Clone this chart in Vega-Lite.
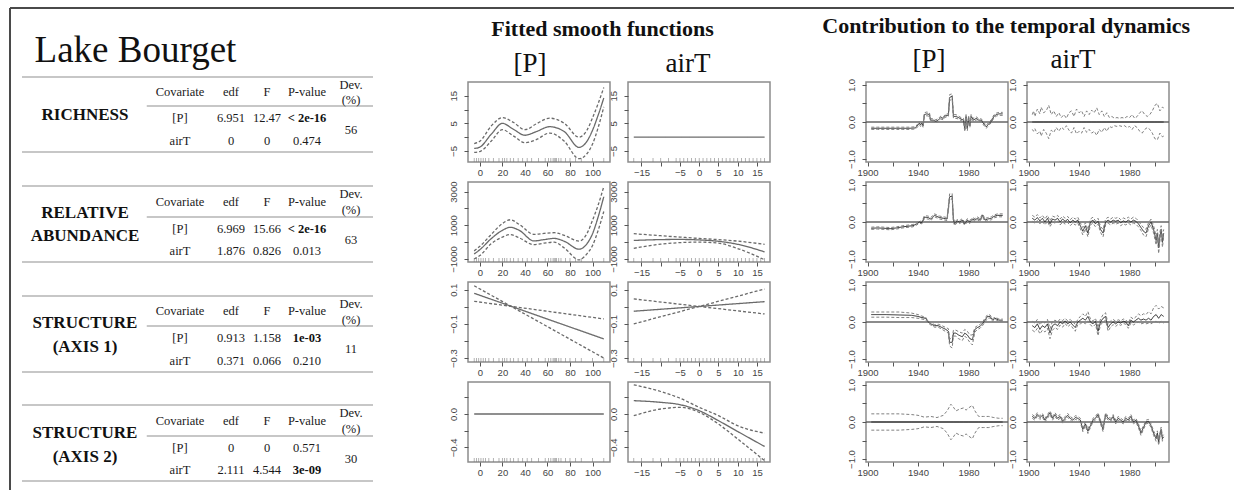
{
"$schema": "https://vega.github.io/schema/vega-lite/v6.json",
"autosize": {"type": "pad"},
"padding": 0,
"background": "white",
"config": {
  "view": {"stroke": "#8c8c8c", "strokeWidth": 1.5},
  "axis": {"grid": false, "domain": false, "tickColor": "#555", "tickSize": 4, "tickCount": 20, "labelFont": "Liberation Sans", "labelFontSize": 9.5, "labelColor": "#444", "labelOverlap": false, "labelFlush": false},
  "axisX": {"labelPadding": 1, "labelOverlap": false},
  "axisY": {"labelAngle": 270, "labelPadding": 6, "labelOverlap": false},
  "title": {"font": "Liberation Serif", "color": "#111"},
  "text": {"font": "Liberation Serif"}
},
"datasets": {
  "spacer": [{"c": -2, "c2": 0, "r": -3, "r2": -3}],
  "frame": [{"c": -2, "c2": 7, "r": -2, "r2": -2}, {"c": -2, "c2": -2, "r": -2, "r2": 16}],
  "hl": [
    {"c": -1, "c2": 6, "r": 0}, {"c": 0.65, "c2": 6, "r": 1}, {"c": -1, "c2": 6, "r": 3},
    {"c": -1, "c2": 6, "r": 4}, {"c": 0.65, "c2": 6, "r": 5}, {"c": -1, "c2": 6, "r": 7},
    {"c": -1, "c2": 6, "r": 8}, {"c": 0.65, "c2": 6, "r": 9}, {"c": -1, "c2": 6, "r": 11},
    {"c": -1, "c2": 6, "r": 12}, {"c": 0.65, "c2": 6, "r": 13}, {"c": -1, "c2": 6, "r": 15}
  ],
  "tab": [
    {"c": 1, "r": 0.5, "t": "Covariate"}, {"c": 2, "r": 0.5, "t": "edf"}, {"c": 3, "r": 0.5, "t": "F"}, {"c": 4, "r": 0.5, "t": "P-value"}, {"c": 5, "r": 0.28, "t": "Dev."}, {"c": 5, "r": 0.79, "t": "(%)"},
    {"c": 1, "r": 1.5, "t": "[P]"}, {"c": 2, "r": 1.5, "t": "6.951"}, {"c": 3, "r": 1.5, "t": "12.47"},
    {"c": 1, "r": 2.5, "t": "airT"}, {"c": 2, "r": 2.5, "t": "0"}, {"c": 3, "r": 2.5, "t": "0"}, {"c": 4, "r": 2.5, "t": "0.474"}, {"c": 5, "r": 2, "t": "56"},
    {"c": 1, "r": 4.5, "t": "Covariate"}, {"c": 2, "r": 4.5, "t": "edf"}, {"c": 3, "r": 4.5, "t": "F"}, {"c": 4, "r": 4.5, "t": "P-value"}, {"c": 5, "r": 4.25, "t": "Dev."}, {"c": 5, "r": 4.79, "t": "(%)"},
    {"c": 1, "r": 5.5, "t": "[P]"}, {"c": 2, "r": 5.5, "t": "6.969"}, {"c": 3, "r": 5.5, "t": "15.66"},
    {"c": 1, "r": 6.5, "t": "airT"}, {"c": 2, "r": 6.5, "t": "1.876"}, {"c": 3, "r": 6.5, "t": "0.826"}, {"c": 4, "r": 6.5, "t": "0.013"}, {"c": 5, "r": 6, "t": "63"},
    {"c": 1, "r": 8.5, "t": "Covariate"}, {"c": 2, "r": 8.5, "t": "edf"}, {"c": 3, "r": 8.5, "t": "F"}, {"c": 4, "r": 8.5, "t": "P-value"}, {"c": 5, "r": 8.25, "t": "Dev."}, {"c": 5, "r": 8.79, "t": "(%)"},
    {"c": 1, "r": 9.5, "t": "[P]"}, {"c": 2, "r": 9.5, "t": "0.913"}, {"c": 3, "r": 9.5, "t": "1.158"},
    {"c": 1, "r": 10.5, "t": "airT"}, {"c": 2, "r": 10.5, "t": "0.371"}, {"c": 3, "r": 10.5, "t": "0.066"}, {"c": 4, "r": 10.5, "t": "0.210"}, {"c": 5, "r": 10, "t": "11"},
    {"c": 1, "r": 12.5, "t": "Covariate"}, {"c": 2, "r": 12.5, "t": "edf"}, {"c": 3, "r": 12.5, "t": "F"}, {"c": 4, "r": 12.5, "t": "P-value"}, {"c": 5, "r": 12.25, "t": "Dev."}, {"c": 5, "r": 12.79, "t": "(%)"},
    {"c": 1, "r": 13.5, "t": "[P]"}, {"c": 2, "r": 13.5, "t": "0"}, {"c": 3, "r": 13.5, "t": "0"}, {"c": 4, "r": 13.5, "t": "0.571"},
    {"c": 1, "r": 14.5, "t": "airT"}, {"c": 2, "r": 14.5, "t": "2.111"}, {"c": 3, "r": 14.5, "t": "4.544"}, {"c": 5, "r": 14, "t": "30"}
  ],
  "tabB": [
    {"c": 4, "r": 1.5, "t": "< 2e-16"}, {"c": 4, "r": 5.5, "t": "< 2e-16"}, {"c": 4, "r": 9.5, "t": "1e-03"}, {"c": 4, "r": 14.5, "t": "3e-09"}
  ],
  "lab": [
    {"c": 0, "r": 1.375, "t": "RICHNESS"}, {"c": 0, "r": 4.87, "t": "RELATIVE"}, {"c": 0, "r": 5.83, "t": "ABUNDANCE"},
    {"c": 0, "r": 8.9, "t": "STRUCTURE"}, {"c": 0, "r": 9.91, "t": "(AXIS 1)"}, {"c": 0, "r": 12.9, "t": "STRUCTURE"}, {"c": 0, "r": 13.91, "t": "(AXIS 2)"}
  ],
  "ttl": [{"c": -0.8, "r": -1, "t": "Lake Bourget"}],
  "sm": [
    {"p": "s1P", "x": -5, "f": -4.1, "u": -2.3, "l": -5.5}, {"p": "s1P", "x": 0, "f": -3.6, "u": -1.5, "l": -5.2}, {"p": "s1P", "x": 10, "f": 1.0, "u": 4.0, "l": -1.5}, {"p": "s1P", "x": 20, "f": 5.0, "u": 7.1, "l": 2.7}, {"p": "s1P", "x": 30, "f": 2.8, "u": 5.3, "l": 0.4}, {"p": "s1P", "x": 40, "f": 0.7, "u": 2.7, "l": -2.0}, {"p": "s1P", "x": 50, "f": 2.0, "u": 4.8, "l": -0.9}, {"p": "s1P", "x": 62, "f": 3.8, "u": 6.9, "l": 1.5}, {"p": "s1P", "x": 75, "f": 2.0, "u": 5.0, "l": -1.5}, {"p": "s1P", "x": 88, "f": -3.7, "u": 0.0, "l": -7.8}, {"p": "s1P", "x": 95, "f": -1.5, "u": 2.5, "l": -6.0}, {"p": "s1P", "x": 100, "f": 2.5, "u": 7.0, "l": -2.5}, {"p": "s1P", "x": 105, "f": 8.0, "u": 12.2, "l": 3.5}, {"p": "s1P", "x": 110, "f": 14.2, "u": 18.0, "l": 11.0},
    {"p": "s1T", "x": -17, "f": 0}, {"p": "s1T", "x": 17, "f": 0},
    {"p": "s2P", "x": -5, "f": -700, "u": -520, "l": -1000}, {"p": "s2P", "x": 0, "f": -450, "u": -250, "l": -800}, {"p": "s2P", "x": 10, "f": 200, "u": 450, "l": -100}, {"p": "s2P", "x": 20, "f": 700, "u": 1100, "l": 300}, {"p": "s2P", "x": 27, "f": 880, "u": 1330, "l": 450}, {"p": "s2P", "x": 35, "f": 700, "u": 1050, "l": 250}, {"p": "s2P", "x": 48, "f": 70, "u": 460, "l": -150}, {"p": "s2P", "x": 57, "f": 150, "u": 520, "l": -60}, {"p": "s2P", "x": 66, "f": 220, "u": 560, "l": 0}, {"p": "s2P", "x": 75, "f": 50, "u": 400, "l": -350}, {"p": "s2P", "x": 88, "f": -420, "u": 60, "l": -1050}, {"p": "s2P", "x": 95, "f": -100, "u": 500, "l": -700}, {"p": "s2P", "x": 100, "f": 500, "u": 1300, "l": -200}, {"p": "s2P", "x": 105, "f": 1500, "u": 2200, "l": 700}, {"p": "s2P", "x": 110, "f": 2700, "u": 3300, "l": 1820},
    {"p": "s2T", "x": -17, "f": 100, "u": 500, "l": -365}, {"p": "s2T", "x": -10, "f": 150, "u": 380, "l": -120}, {"p": "s2T", "x": -5, "f": 160, "u": 300, "l": -30}, {"p": "s2T", "x": 0, "f": 130, "u": 220, "l": 0}, {"p": "s2T", "x": 5, "f": 50, "u": 150, "l": -60}, {"p": "s2T", "x": 10, "f": -130, "u": 60, "l": -380}, {"p": "s2T", "x": 17, "f": -580, "u": -130, "l": -1050},
    {"p": "s3P", "x": -5, "f": 0.079, "u": 0.123, "l": 0.032}, {"p": "s3P", "x": 110, "f": -0.188, "u": -0.30, "l": -0.071},
    {"p": "s3T", "x": -17, "f": -0.026, "u": -0.1, "l": 0.046}, {"p": "s3T", "x": 17, "f": 0.03, "u": 0.104, "l": -0.042},
    {"p": "s4P", "x": -5, "f": 0}, {"p": "s4P", "x": 110, "f": 0},
    {"p": "s4T", "x": -17, "f": 0.16, "u": 0.35, "l": -0.02}, {"p": "s4T", "x": -10, "f": 0.14, "u": 0.27, "l": 0.06}, {"p": "s4T", "x": -5, "f": 0.112, "u": 0.19, "l": 0.08}, {"p": "s4T", "x": 0, "f": 0.04, "u": 0.08, "l": 0.02}, {"p": "s4T", "x": 5, "f": -0.08, "u": -0.02, "l": -0.12}, {"p": "s4T", "x": 10, "f": -0.21, "u": -0.14, "l": -0.30}, {"p": "s4T", "x": 17, "f": -0.39, "u": -0.23, "l": -0.56}
  ],
  "rugP": [{"x": -5}, {"x": -3}, {"x": -1}, {"x": 1}, {"x": 3}, {"x": 5}, {"x": 8}, {"x": 12}, {"x": 17}, {"x": 20}, {"x": 22}, {"x": 24}, {"x": 27}, {"x": 30}, {"x": 34}, {"x": 38}, {"x": 42}, {"x": 46}, {"x": 52}, {"x": 58}, {"x": 61}, {"x": 63}, {"x": 65}, {"x": 66}, {"x": 67}, {"x": 68}, {"x": 70}, {"x": 72}, {"x": 76}, {"x": 80}, {"x": 85}, {"x": 90}, {"x": 100}, {"x": 110}],
  "rugT": [{"x": -17}, {"x": -15}, {"x": -12}, {"x": -10}, {"x": -8}, {"x": -6}, {"x": -5}, {"x": -4}, {"x": -3}, {"x": -2}, {"x": -1}, {"x": 0}, {"x": 1}, {"x": 2}, {"x": 3}, {"x": 4}, {"x": 5}, {"x": 6}, {"x": 7}, {"x": 8}, {"x": 9}, {"x": 10}, {"x": 11}, {"x": 12}, {"x": 13}, {"x": 14}, {"x": 15}, {"x": 16}, {"x": 17}],
  "ct": [
    {"p":"c1P","y":1903,"f":-0.17,"u":-0.14,"l":-0.2},{"p":"c1P","y":1908,"f":-0.17,"u":-0.14,"l":-0.2},{"p":"c1P","y":1913,"f":-0.17,"u":-0.14,"l":-0.2},{"p":"c1P","y":1918,"f":-0.17,"u":-0.14,"l":-0.2},{"p":"c1P","y":1923,"f":-0.17,"u":-0.14,"l":-0.2},{"p":"c1P","y":1928,"f":-0.17,"u":-0.14,"l":-0.2},{"p":"c1P","y":1933,"f":-0.17,"u":-0.14,"l":-0.2},{"p":"c1P","y":1938,"f":-0.16,"u":-0.13,"l":-0.19},{"p":"c1P","y":1940,"f":-0.08,"u":-0.04,"l":-0.12},{"p":"c1P","y":1941,"f":-0.03,"u":0.01,"l":-0.07},{"p":"c1P","y":1942,"f":-0.08,"u":-0.04,"l":-0.12},{"p":"c1P","y":1943,"f":-0.03,"u":0.01,"l":-0.07},{"p":"c1P","y":1944,"f":-0.1,"u":-0.06,"l":-0.14},{"p":"c1P","y":1945,"f":0.2,"u":0.25,"l":0.15},{"p":"c1P","y":1947,"f":0.22,"u":0.27,"l":0.17},{"p":"c1P","y":1949,"f":0.2,"u":0.25,"l":0.15},{"p":"c1P","y":1950,"f":0.05,"u":0.09,"l":0.01},{"p":"c1P","y":1952,"f":0.05,"u":0.09,"l":0.01},{"p":"c1P","y":1954,"f":0.02,"u":0.06,"l":-0.02},{"p":"c1P","y":1956,"f":0.05,"u":0.09,"l":0.01},{"p":"c1P","y":1958,"f":0.12,"u":0.16,"l":0.08},{"p":"c1P","y":1960,"f":0.1,"u":0.14,"l":0.06},{"p":"c1P","y":1962,"f":0.18,"u":0.22,"l":0.14},{"p":"c1P","y":1964,"f":0.18,"u":0.22,"l":0.14},{"p":"c1P","y":1965,"f":0.66,"u":0.74,"l":0.58},{"p":"c1P","y":1967,"f":0.7,"u":0.76,"l":0.62},{"p":"c1P","y":1968,"f":0.15,"u":0.2,"l":0.1},{"p":"c1P","y":1970,"f":0.15,"u":0.2,"l":0.1},{"p":"c1P","y":1972,"f":0.12,"u":0.16,"l":0.08},{"p":"c1P","y":1974,"f":0.08,"u":0.12,"l":0.04},{"p":"c1P","y":1976,"f":0.05,"u":0.1,"l":0.0},{"p":"c1P","y":1977,"f":-0.2,"u":-0.14,"l":-0.26},{"p":"c1P","y":1978,"f":0.15,"u":0.2,"l":0.1},{"p":"c1P","y":1979,"f":-0.18,"u":-0.12,"l":-0.24},{"p":"c1P","y":1980,"f":0.12,"u":0.17,"l":0.07},{"p":"c1P","y":1981,"f":-0.1,"u":-0.05,"l":-0.15},{"p":"c1P","y":1982,"f":0.15,"u":0.2,"l":0.1},{"p":"c1P","y":1984,"f":0.05,"u":0.09,"l":0.01},{"p":"c1P","y":1986,"f":0.1,"u":0.14,"l":0.06},{"p":"c1P","y":1988,"f":0.05,"u":0.09,"l":0.01},{"p":"c1P","y":1990,"f":0.05,"u":0.09,"l":0.01},{"p":"c1P","y":1992,"f":-0.05,"u":-0.01,"l":-0.09},{"p":"c1P","y":1994,"f":-0.13,"u":-0.09,"l":-0.17},{"p":"c1P","y":1996,"f":-0.05,"u":-0.01,"l":-0.09},{"p":"c1P","y":1998,"f":0.02,"u":0.06,"l":-0.02},{"p":"c1P","y":2000,"f":0.15,"u":0.19,"l":0.11},{"p":"c1P","y":2002,"f":0.2,"u":0.24,"l":0.16},{"p":"c1P","y":2004,"f":0.22,"u":0.26,"l":0.18},{"p":"c1P","y":2007,"f":0.22,"u":0.26,"l":0.18},
    {"p":"c2P","y":1903,"f":-0.17,"u":-0.14,"l":-0.2},{"p":"c2P","y":1908,"f":-0.16,"u":-0.13,"l":-0.19},{"p":"c2P","y":1913,"f":-0.17,"u":-0.14,"l":-0.2},{"p":"c2P","y":1918,"f":-0.18,"u":-0.15,"l":-0.21},{"p":"c2P","y":1923,"f":-0.16,"u":-0.13,"l":-0.19},{"p":"c2P","y":1928,"f":-0.13,"u":-0.1,"l":-0.16},{"p":"c2P","y":1933,"f":-0.11,"u":-0.08,"l":-0.14},{"p":"c2P","y":1936,"f":-0.1,"u":-0.07,"l":-0.13},{"p":"c2P","y":1939,"f":-0.05,"u":-0.02,"l":-0.08},{"p":"c2P","y":1941,"f":0.0,"u":0.03,"l":-0.03},{"p":"c2P","y":1943,"f":-0.02,"u":0.01,"l":-0.05},{"p":"c2P","y":1945,"f":0.13,"u":0.17,"l":0.09},{"p":"c2P","y":1948,"f":0.12,"u":0.16,"l":0.08},{"p":"c2P","y":1950,"f":0.08,"u":0.12,"l":0.04},{"p":"c2P","y":1953,"f":0.18,"u":0.22,"l":0.14},{"p":"c2P","y":1955,"f":0.15,"u":0.19,"l":0.11},{"p":"c2P","y":1957,"f":0.12,"u":0.16,"l":0.08},{"p":"c2P","y":1960,"f":0.1,"u":0.14,"l":0.06},{"p":"c2P","y":1963,"f":0.08,"u":0.12,"l":0.04},{"p":"c2P","y":1965,"f":0.68,"u":0.76,"l":0.6},{"p":"c2P","y":1967,"f":0.7,"u":0.77,"l":0.63},{"p":"c2P","y":1968,"f":0.05,"u":0.1,"l":0.0},{"p":"c2P","y":1969,"f":-0.05,"u":0.0,"l":-0.1},{"p":"c2P","y":1971,"f":0.03,"u":0.07,"l":-0.01},{"p":"c2P","y":1973,"f":0.0,"u":0.04,"l":-0.04},{"p":"c2P","y":1975,"f":0.05,"u":0.09,"l":0.01},{"p":"c2P","y":1977,"f":-0.05,"u":-0.01,"l":-0.09},{"p":"c2P","y":1979,"f":0.05,"u":0.09,"l":0.01},{"p":"c2P","y":1981,"f":0.0,"u":0.04,"l":-0.04},{"p":"c2P","y":1983,"f":0.08,"u":0.12,"l":0.04},{"p":"c2P","y":1985,"f":0.05,"u":0.09,"l":0.01},{"p":"c2P","y":1987,"f":0.1,"u":0.14,"l":0.06},{"p":"c2P","y":1989,"f":0.05,"u":0.09,"l":0.01},{"p":"c2P","y":1991,"f":0.18,"u":0.22,"l":0.14},{"p":"c2P","y":1993,"f":0.05,"u":0.09,"l":0.01},{"p":"c2P","y":1995,"f":0.08,"u":0.12,"l":0.04},{"p":"c2P","y":1998,"f":0.1,"u":0.14,"l":0.06},{"p":"c2P","y":2000,"f":0.15,"u":0.19,"l":0.11},{"p":"c2P","y":2003,"f":0.18,"u":0.22,"l":0.14},{"p":"c2P","y":2007,"f":0.18,"u":0.22,"l":0.14},
    {"p":"c3P","y":1903,"f":0.2,"u":0.27,"l":0.13},{"p":"c3P","y":1915,"f":0.2,"u":0.27,"l":0.13},{"p":"c3P","y":1925,"f":0.19,"u":0.27,"l":0.12},{"p":"c3P","y":1935,"f":0.18,"u":0.24,"l":0.12},{"p":"c3P","y":1940,"f":0.15,"u":0.2,"l":0.1},{"p":"c3P","y":1943,"f":0.12,"u":0.16,"l":0.08},{"p":"c3P","y":1946,"f":0.1,"u":0.13,"l":0.06},{"p":"c3P","y":1948,"f":0.0,"u":0.03,"l":-0.03},{"p":"c3P","y":1950,"f":-0.05,"u":-0.02,"l":-0.08},{"p":"c3P","y":1953,"f":-0.1,"u":-0.07,"l":-0.14},{"p":"c3P","y":1956,"f":-0.1,"u":-0.06,"l":-0.14},{"p":"c3P","y":1959,"f":-0.15,"u":-0.1,"l":-0.2},{"p":"c3P","y":1962,"f":-0.2,"u":-0.15,"l":-0.26},{"p":"c3P","y":1964,"f":-0.25,"u":-0.18,"l":-0.3},{"p":"c3P","y":1965,"f":-0.55,"u":-0.45,"l":-0.65},{"p":"c3P","y":1967,"f":-0.55,"u":-0.45,"l":-0.7},{"p":"c3P","y":1968,"f":-0.3,"u":-0.22,"l":-0.38},{"p":"c3P","y":1970,"f":-0.3,"u":-0.22,"l":-0.38},{"p":"c3P","y":1972,"f":-0.35,"u":-0.26,"l":-0.45},{"p":"c3P","y":1975,"f":-0.4,"u":-0.3,"l":-0.5},{"p":"c3P","y":1977,"f":-0.3,"u":-0.2,"l":-0.38},{"p":"c3P","y":1979,"f":-0.35,"u":-0.25,"l":-0.45},{"p":"c3P","y":1981,"f":-0.45,"u":-0.35,"l":-0.55},{"p":"c3P","y":1983,"f":-0.48,"u":-0.35,"l":-0.62},{"p":"c3P","y":1985,"f":-0.2,"u":-0.15,"l":-0.27},{"p":"c3P","y":1987,"f":-0.15,"u":-0.1,"l":-0.2},{"p":"c3P","y":1989,"f":-0.12,"u":-0.07,"l":-0.17},{"p":"c3P","y":1991,"f":-0.05,"u":0.0,"l":-0.1},{"p":"c3P","y":1993,"f":0.05,"u":0.1,"l":0.0},{"p":"c3P","y":1995,"f":0.15,"u":0.2,"l":0.1},{"p":"c3P","y":1997,"f":0.15,"u":0.19,"l":0.11},{"p":"c3P","y":1999,"f":0.05,"u":0.09,"l":0.01},{"p":"c3P","y":2001,"f":0.1,"u":0.13,"l":0.07},{"p":"c3P","y":2004,"f":0.05,"u":0.08,"l":0.02},{"p":"c3P","y":2007,"f":0.05,"u":0.08,"l":0.02},
    {"p":"c4P","y":1903,"f":0,"u":0.22,"l":-0.22},{"p":"c4P","y":1915,"f":0,"u":0.22,"l":-0.22},{"p":"c4P","y":1925,"f":0,"u":0.22,"l":-0.22},{"p":"c4P","y":1935,"f":0,"u":0.2,"l":-0.2},{"p":"c4P","y":1940,"f":0,"u":0.18,"l":-0.18},{"p":"c4P","y":1945,"f":0,"u":0.13,"l":-0.13},{"p":"c4P","y":1950,"f":0,"u":0.15,"l":-0.15},{"p":"c4P","y":1955,"f":0,"u":0.12,"l":-0.12},{"p":"c4P","y":1960,"f":0,"u":0.18,"l":-0.18},{"p":"c4P","y":1963,"f":0,"u":0.3,"l":-0.3},{"p":"c4P","y":1966,"f":0,"u":0.48,"l":-0.48},{"p":"c4P","y":1968,"f":0,"u":0.4,"l":-0.4},{"p":"c4P","y":1970,"f":0,"u":0.3,"l":-0.3},{"p":"c4P","y":1973,"f":0,"u":0.35,"l":-0.35},{"p":"c4P","y":1976,"f":0,"u":0.38,"l":-0.38},{"p":"c4P","y":1978,"f":0,"u":0.32,"l":-0.32},{"p":"c4P","y":1980,"f":0,"u":0.38,"l":-0.38},{"p":"c4P","y":1983,"f":0,"u":0.45,"l":-0.45},{"p":"c4P","y":1985,"f":0,"u":0.3,"l":-0.3},{"p":"c4P","y":1988,"f":0,"u":0.15,"l":-0.15},{"p":"c4P","y":1992,"f":0,"u":0.15,"l":-0.15},{"p":"c4P","y":1996,"f":0,"u":0.15,"l":-0.15},{"p":"c4P","y":2000,"f":0,"u":0.12,"l":-0.12},{"p":"c4P","y":2004,"f":0,"u":0.1,"l":-0.1},{"p":"c4P","y":2007,"f":0,"u":0.1,"l":-0.1},
    {"p":"c1T","y":1903,"f":0,"u":0.2,"l":-0.2},{"p":"c1T","y":1904,"f":0,"u":0.3,"l":-0.25},{"p":"c1T","y":1905,"f":0,"u":0.15,"l":-0.18},{"p":"c1T","y":1907,"f":0,"u":0.35,"l":-0.32},{"p":"c1T","y":1909,"f":0,"u":0.22,"l":-0.25},{"p":"c1T","y":1910,"f":0,"u":0.4,"l":-0.38},{"p":"c1T","y":1912,"f":0,"u":0.25,"l":-0.2},{"p":"c1T","y":1914,"f":0,"u":0.3,"l":-0.3},{"p":"c1T","y":1916,"f":0,"u":0.45,"l":-0.45},{"p":"c1T","y":1918,"f":0,"u":0.2,"l":-0.22},{"p":"c1T","y":1920,"f":0,"u":0.3,"l":-0.28},{"p":"c1T","y":1922,"f":0,"u":0.15,"l":-0.15},{"p":"c1T","y":1924,"f":0,"u":0.25,"l":-0.25},{"p":"c1T","y":1926,"f":0,"u":0.12,"l":-0.14},{"p":"c1T","y":1928,"f":0,"u":0.2,"l":-0.2},{"p":"c1T","y":1930,"f":0,"u":0.1,"l":-0.1},{"p":"c1T","y":1932,"f":0,"u":0.25,"l":-0.22},{"p":"c1T","y":1934,"f":0,"u":0.3,"l":-0.3},{"p":"c1T","y":1936,"f":0,"u":0.15,"l":-0.15},{"p":"c1T","y":1938,"f":0,"u":0.35,"l":-0.32},{"p":"c1T","y":1940,"f":0,"u":0.25,"l":-0.25},{"p":"c1T","y":1942,"f":0,"u":0.3,"l":-0.3},{"p":"c1T","y":1944,"f":0,"u":0.15,"l":-0.15},{"p":"c1T","y":1946,"f":0,"u":0.3,"l":-0.28},{"p":"c1T","y":1948,"f":0,"u":0.2,"l":-0.2},{"p":"c1T","y":1950,"f":0,"u":0.32,"l":-0.3},{"p":"c1T","y":1952,"f":0,"u":0.25,"l":-0.25},{"p":"c1T","y":1954,"f":0,"u":0.38,"l":-0.36},{"p":"c1T","y":1956,"f":0,"u":0.2,"l":-0.2},{"p":"c1T","y":1958,"f":0,"u":0.3,"l":-0.28},{"p":"c1T","y":1960,"f":0,"u":0.15,"l":-0.15},{"p":"c1T","y":1962,"f":0,"u":0.25,"l":-0.25},{"p":"c1T","y":1964,"f":0,"u":0.12,"l":-0.12},{"p":"c1T","y":1966,"f":0,"u":0.15,"l":-0.15},{"p":"c1T","y":1968,"f":0,"u":0.1,"l":-0.1},{"p":"c1T","y":1970,"f":0,"u":0.12,"l":-0.12},{"p":"c1T","y":1972,"f":0,"u":0.1,"l":-0.1},{"p":"c1T","y":1974,"f":0,"u":0.12,"l":-0.12},{"p":"c1T","y":1976,"f":0,"u":0.1,"l":-0.1},{"p":"c1T","y":1978,"f":0,"u":0.15,"l":-0.15},{"p":"c1T","y":1980,"f":0,"u":0.12,"l":-0.12},{"p":"c1T","y":1982,"f":0,"u":0.2,"l":-0.2},{"p":"c1T","y":1984,"f":0,"u":0.1,"l":-0.1},{"p":"c1T","y":1986,"f":0,"u":0.15,"l":-0.15},{"p":"c1T","y":1988,"f":0,"u":0.25,"l":-0.25},{"p":"c1T","y":1990,"f":0,"u":0.3,"l":-0.3},{"p":"c1T","y":1992,"f":0,"u":0.2,"l":-0.2},{"p":"c1T","y":1994,"f":0,"u":0.15,"l":-0.15},{"p":"c1T","y":1996,"f":0,"u":0.2,"l":-0.2},{"p":"c1T","y":1998,"f":0,"u":0.3,"l":-0.3},{"p":"c1T","y":2000,"f":0,"u":0.45,"l":-0.45},{"p":"c1T","y":2002,"f":0,"u":0.5,"l":-0.48},{"p":"c1T","y":2004,"f":0,"u":0.3,"l":-0.3},{"p":"c1T","y":2006,"f":0,"u":0.4,"l":-0.4},{"p":"c1T","y":2007,"f":0,"u":0.38,"l":-0.38},
    {"p":"c2T","y":1903,"f":0.1,"u":0.18,"l":0.02},{"p":"c2T","y":1905,"f":0.05,"u":0.13,"l":-0.03},{"p":"c2T","y":1907,"f":0.12,"u":0.2,"l":0.04},{"p":"c2T","y":1909,"f":0.03,"u":0.11,"l":-0.05},{"p":"c2T","y":1911,"f":0.1,"u":0.18,"l":0.02},{"p":"c2T","y":1913,"f":0.0,"u":0.08,"l":-0.08},{"p":"c2T","y":1915,"f":0.1,"u":0.18,"l":0.02},{"p":"c2T","y":1917,"f":-0.05,"u":0.03,"l":-0.13},{"p":"c2T","y":1919,"f":0.08,"u":0.16,"l":0.0},{"p":"c2T","y":1921,"f":0.05,"u":0.13,"l":-0.03},{"p":"c2T","y":1923,"f":0.1,"u":0.18,"l":0.02},{"p":"c2T","y":1925,"f":0.0,"u":0.08,"l":-0.08},{"p":"c2T","y":1927,"f":0.08,"u":0.16,"l":0.0},{"p":"c2T","y":1929,"f":0.02,"u":0.1,"l":-0.06},{"p":"c2T","y":1931,"f":0.07,"u":0.15,"l":-0.01},{"p":"c2T","y":1933,"f":-0.02,"u":0.06,"l":-0.1},{"p":"c2T","y":1935,"f":0.05,"u":0.13,"l":-0.03},{"p":"c2T","y":1937,"f":0.0,"u":0.08,"l":-0.08},{"p":"c2T","y":1939,"f":0.05,"u":0.13,"l":-0.03},{"p":"c2T","y":1941,"f":-0.1,"u":-0.02,"l":-0.18},{"p":"c2T","y":1943,"f":-0.25,"u":-0.15,"l":-0.35},{"p":"c2T","y":1945,"f":-0.1,"u":-0.02,"l":-0.18},{"p":"c2T","y":1947,"f":-0.3,"u":-0.2,"l":-0.4},{"p":"c2T","y":1949,"f":0.0,"u":0.08,"l":-0.08},{"p":"c2T","y":1951,"f":0.05,"u":0.13,"l":-0.03},{"p":"c2T","y":1953,"f":-0.05,"u":0.03,"l":-0.13},{"p":"c2T","y":1955,"f":0.02,"u":0.1,"l":-0.06},{"p":"c2T","y":1957,"f":-0.2,"u":-0.12,"l":-0.28},{"p":"c2T","y":1959,"f":-0.3,"u":-0.2,"l":-0.4},{"p":"c2T","y":1961,"f":0.0,"u":0.08,"l":-0.08},{"p":"c2T","y":1963,"f":0.05,"u":0.13,"l":-0.03},{"p":"c2T","y":1965,"f":0.0,"u":0.08,"l":-0.08},{"p":"c2T","y":1967,"f":0.05,"u":0.13,"l":-0.03},{"p":"c2T","y":1969,"f":0.02,"u":0.1,"l":-0.06},{"p":"c2T","y":1971,"f":0.05,"u":0.13,"l":-0.03},{"p":"c2T","y":1973,"f":-0.02,"u":0.06,"l":-0.1},{"p":"c2T","y":1975,"f":0.03,"u":0.11,"l":-0.05},{"p":"c2T","y":1977,"f":0.0,"u":0.08,"l":-0.08},{"p":"c2T","y":1979,"f":0.05,"u":0.13,"l":-0.03},{"p":"c2T","y":1981,"f":0.0,"u":0.08,"l":-0.08},{"p":"c2T","y":1983,"f":0.05,"u":0.13,"l":-0.03},{"p":"c2T","y":1985,"f":0.02,"u":0.1,"l":-0.06},{"p":"c2T","y":1987,"f":-0.05,"u":0.03,"l":-0.13},{"p":"c2T","y":1989,"f":-0.15,"u":-0.07,"l":-0.23},{"p":"c2T","y":1991,"f":-0.25,"u":-0.15,"l":-0.35},{"p":"c2T","y":1993,"f":-0.3,"u":-0.2,"l":-0.4},{"p":"c2T","y":1995,"f":-0.1,"u":-0.02,"l":-0.18},{"p":"c2T","y":1997,"f":0.0,"u":0.08,"l":-0.08},{"p":"c2T","y":1999,"f":-0.2,"u":-0.1,"l":-0.3},{"p":"c2T","y":2001,"f":-0.5,"u":-0.38,"l":-0.62},{"p":"c2T","y":2002,"f":-0.3,"u":-0.2,"l":-0.4},{"p":"c2T","y":2003,"f":-0.7,"u":-0.55,"l":-0.85},{"p":"c2T","y":2004,"f":-0.4,"u":-0.28,"l":-0.52},{"p":"c2T","y":2005,"f":-0.2,"u":-0.1,"l":-0.3},{"p":"c2T","y":2006,"f":-0.55,"u":-0.42,"l":-0.68},{"p":"c2T","y":2007,"f":-0.3,"u":-0.2,"l":-0.4},
    {"p":"c3T","y":1903,"f":-0.1,"u":0.02,"l":-0.22},{"p":"c3T","y":1905,"f":-0.15,"u":-0.03,"l":-0.27},{"p":"c3T","y":1907,"f":-0.05,"u":0.07,"l":-0.17},{"p":"c3T","y":1909,"f":-0.2,"u":-0.08,"l":-0.32},{"p":"c3T","y":1911,"f":-0.1,"u":0.02,"l":-0.22},{"p":"c3T","y":1913,"f":-0.15,"u":-0.03,"l":-0.27},{"p":"c3T","y":1915,"f":-0.05,"u":0.07,"l":-0.17},{"p":"c3T","y":1917,"f":-0.3,"u":-0.18,"l":-0.45},{"p":"c3T","y":1919,"f":-0.1,"u":0.02,"l":-0.22},{"p":"c3T","y":1921,"f":-0.05,"u":0.05,"l":-0.15},{"p":"c3T","y":1923,"f":-0.1,"u":0.0,"l":-0.2},{"p":"c3T","y":1925,"f":0.0,"u":0.08,"l":-0.08},{"p":"c3T","y":1927,"f":-0.05,"u":0.04,"l":-0.14},{"p":"c3T","y":1929,"f":0.03,"u":0.1,"l":-0.04},{"p":"c3T","y":1931,"f":-0.05,"u":0.03,"l":-0.13},{"p":"c3T","y":1933,"f":0.0,"u":0.07,"l":-0.07},{"p":"c3T","y":1935,"f":-0.08,"u":0.0,"l":-0.16},{"p":"c3T","y":1937,"f":-0.15,"u":-0.06,"l":-0.25},{"p":"c3T","y":1939,"f":0.0,"u":0.07,"l":-0.07},{"p":"c3T","y":1941,"f":0.05,"u":0.15,"l":-0.05},{"p":"c3T","y":1943,"f":0.1,"u":0.22,"l":0.0},{"p":"c3T","y":1945,"f":0.05,"u":0.15,"l":-0.05},{"p":"c3T","y":1947,"f":0.15,"u":0.28,"l":0.03},{"p":"c3T","y":1949,"f":0.0,"u":0.08,"l":-0.08},{"p":"c3T","y":1951,"f":-0.05,"u":0.03,"l":-0.13},{"p":"c3T","y":1953,"f":0.02,"u":0.1,"l":-0.06},{"p":"c3T","y":1955,"f":-0.25,"u":-0.15,"l":-0.37},{"p":"c3T","y":1957,"f":0.0,"u":0.08,"l":-0.08},{"p":"c3T","y":1959,"f":0.1,"u":0.2,"l":0.0},{"p":"c3T","y":1961,"f":0.15,"u":0.25,"l":0.05},{"p":"c3T","y":1963,"f":-0.15,"u":-0.06,"l":-0.25},{"p":"c3T","y":1965,"f":-0.05,"u":0.03,"l":-0.13},{"p":"c3T","y":1967,"f":0.0,"u":0.07,"l":-0.07},{"p":"c3T","y":1969,"f":-0.05,"u":0.02,"l":-0.12},{"p":"c3T","y":1971,"f":0.0,"u":0.06,"l":-0.06},{"p":"c3T","y":1973,"f":-0.03,"u":0.03,"l":-0.09},{"p":"c3T","y":1975,"f":0.02,"u":0.08,"l":-0.04},{"p":"c3T","y":1977,"f":0.0,"u":0.06,"l":-0.06},{"p":"c3T","y":1979,"f":-0.1,"u":-0.03,"l":-0.17},{"p":"c3T","y":1981,"f":0.05,"u":0.13,"l":-0.03},{"p":"c3T","y":1983,"f":0.0,"u":0.08,"l":-0.08},{"p":"c3T","y":1985,"f":0.05,"u":0.14,"l":-0.04},{"p":"c3T","y":1987,"f":0.1,"u":0.22,"l":0.0},{"p":"c3T","y":1989,"f":0.05,"u":0.17,"l":-0.05},{"p":"c3T","y":1991,"f":0.08,"u":0.22,"l":-0.03},{"p":"c3T","y":1993,"f":0.05,"u":0.2,"l":-0.05},{"p":"c3T","y":1995,"f":0.1,"u":0.28,"l":-0.03},{"p":"c3T","y":1997,"f":0.05,"u":0.22,"l":-0.05},{"p":"c3T","y":1999,"f":0.15,"u":0.38,"l":0.0},{"p":"c3T","y":2001,"f":0.2,"u":0.45,"l":0.02},{"p":"c3T","y":2003,"f":0.1,"u":0.35,"l":-0.04},{"p":"c3T","y":2005,"f":0.2,"u":0.42,"l":0.02},{"p":"c3T","y":2007,"f":0.15,"u":0.38,"l":-0.03},
    {"p":"c4T","y":1903,"f":0.15,"u":0.2,"l":0.1},{"p":"c4T","y":1905,"f":0.1,"u":0.15,"l":0.05},{"p":"c4T","y":1907,"f":0.2,"u":0.25,"l":0.15},{"p":"c4T","y":1909,"f":0.12,"u":0.17,"l":0.07},{"p":"c4T","y":1911,"f":0.18,"u":0.23,"l":0.13},{"p":"c4T","y":1913,"f":0.05,"u":0.1,"l":0.0},{"p":"c4T","y":1915,"f":0.15,"u":0.2,"l":0.1},{"p":"c4T","y":1917,"f":0.25,"u":0.3,"l":0.2},{"p":"c4T","y":1919,"f":0.1,"u":0.15,"l":0.05},{"p":"c4T","y":1921,"f":0.2,"u":0.25,"l":0.15},{"p":"c4T","y":1923,"f":0.1,"u":0.15,"l":0.05},{"p":"c4T","y":1925,"f":0.15,"u":0.2,"l":0.1},{"p":"c4T","y":1927,"f":0.02,"u":0.07,"l":-0.03},{"p":"c4T","y":1929,"f":0.1,"u":0.15,"l":0.05},{"p":"c4T","y":1931,"f":0.18,"u":0.23,"l":0.13},{"p":"c4T","y":1933,"f":0.1,"u":0.15,"l":0.05},{"p":"c4T","y":1935,"f":0.05,"u":0.1,"l":0.0},{"p":"c4T","y":1937,"f":0.12,"u":0.17,"l":0.07},{"p":"c4T","y":1939,"f":0.1,"u":0.15,"l":0.05},{"p":"c4T","y":1941,"f":0.05,"u":0.1,"l":0.0},{"p":"c4T","y":1943,"f":-0.2,"u":-0.14,"l":-0.26},{"p":"c4T","y":1945,"f":-0.05,"u":0.0,"l":-0.1},{"p":"c4T","y":1947,"f":-0.25,"u":-0.19,"l":-0.31},{"p":"c4T","y":1949,"f":-0.1,"u":-0.05,"l":-0.15},{"p":"c4T","y":1951,"f":0.05,"u":0.1,"l":0.0},{"p":"c4T","y":1953,"f":0.1,"u":0.15,"l":0.05},{"p":"c4T","y":1955,"f":0.2,"u":0.25,"l":0.15},{"p":"c4T","y":1957,"f":0.0,"u":0.05,"l":-0.05},{"p":"c4T","y":1959,"f":-0.2,"u":-0.14,"l":-0.26},{"p":"c4T","y":1961,"f":0.2,"u":0.25,"l":0.15},{"p":"c4T","y":1963,"f":0.1,"u":0.15,"l":0.05},{"p":"c4T","y":1965,"f":0.05,"u":0.1,"l":0.0},{"p":"c4T","y":1967,"f":0.15,"u":0.2,"l":0.1},{"p":"c4T","y":1969,"f":0.0,"u":0.05,"l":-0.05},{"p":"c4T","y":1971,"f":0.1,"u":0.15,"l":0.05},{"p":"c4T","y":1973,"f":0.05,"u":0.1,"l":0.0},{"p":"c4T","y":1975,"f":0.0,"u":0.05,"l":-0.05},{"p":"c4T","y":1977,"f":0.1,"u":0.15,"l":0.05},{"p":"c4T","y":1979,"f":0.05,"u":0.1,"l":0.0},{"p":"c4T","y":1981,"f":0.15,"u":0.2,"l":0.1},{"p":"c4T","y":1983,"f":0.0,"u":0.05,"l":-0.05},{"p":"c4T","y":1985,"f":0.05,"u":0.1,"l":0.0},{"p":"c4T","y":1987,"f":-0.1,"u":-0.05,"l":-0.15},{"p":"c4T","y":1989,"f":-0.3,"u":-0.24,"l":-0.36},{"p":"c4T","y":1991,"f":-0.15,"u":-0.1,"l":-0.2},{"p":"c4T","y":1993,"f":0.0,"u":0.05,"l":-0.05},{"p":"c4T","y":1995,"f":0.02,"u":0.07,"l":-0.03},{"p":"c4T","y":1997,"f":-0.1,"u":-0.05,"l":-0.15},{"p":"c4T","y":1999,"f":-0.3,"u":-0.24,"l":-0.36},{"p":"c4T","y":2001,"f":-0.45,"u":-0.38,"l":-0.52},{"p":"c4T","y":2002,"f":-0.3,"u":-0.24,"l":-0.36},{"p":"c4T","y":2003,"f":-0.55,"u":-0.47,"l":-0.63},{"p":"c4T","y":2004,"f":-0.35,"u":-0.29,"l":-0.41},{"p":"c4T","y":2005,"f":-0.2,"u":-0.14,"l":-0.26},{"p":"c4T","y":2006,"f":-0.45,"u":-0.38,"l":-0.52},{"p":"c4T","y":2007,"f":-0.4,"u":-0.34,"l":-0.46}
  ]
},
"spacing": 96,
"bounds": "flush",
"hconcat": [
  {
    "width": 372, "height": 380,
    "view": {"stroke": null},
    "layer": [
      {"data": {"name": "spacer"}, "mark": {"type": "rule", "color": "white", "strokeWidth": 2},
       "encoding": {
         "x": {"field": "c", "type": "quantitative", "axis": null, "scale": {"domain": [-2, -1, 0, 1, 2, 3, 4, 5, 6, 7], "range": [10, 22, 85, 180, 231, 267, 307, 351, 373, 1234], "nice": false, "zero": false}},
         "x2": {"field": "c2"},
         "y": {"field": "r", "type": "quantitative", "axis": null, "scale": {"domain": [-3, -2, -1, 0, 1, 2, 3, 4, 5, 6, 7, 8, 9, 10, 11, 12, 13, 14, 15, 16], "range": [-81, -74, -20, -5, 24, 48, 70, 104, 135, 158, 180, 214, 244, 267, 290, 323, 354, 377, 399, 408], "nice": false, "zero": false}},
         "y2": {"field": "r2"}
       }},
      {"data": {"name": "frame"}, "mark": {"type": "rule", "color": "#4a4a4a", "strokeWidth": 2},
       "encoding": {"x": {"field": "c", "type": "quantitative", "axis": null}, "x2": {"field": "c2"}, "y": {"field": "r", "type": "quantitative", "axis": null}, "y2": {"field": "r2"}}},
      {"data": {"name": "hl"}, "mark": {"type": "rule", "color": "#b5b5b5", "strokeWidth": 1.5},
       "encoding": {"x": {"field": "c", "type": "quantitative", "axis": null}, "x2": {"field": "c2"}, "y": {"field": "r", "type": "quantitative", "axis": null}}},
      {"data": {"name": "tab"}, "mark": {"type": "text", "fontSize": 12.5, "color": "#1a1a1a", "baseline": "middle"},
       "encoding": {"x": {"field": "c", "type": "quantitative", "axis": null}, "y": {"field": "r", "type": "quantitative", "axis": null}, "text": {"field": "t"}}},
      {"data": {"name": "tabB"}, "mark": {"type": "text", "fontSize": 12.5, "fontWeight": "bold", "color": "#111", "baseline": "middle"},
       "encoding": {"x": {"field": "c", "type": "quantitative", "axis": null}, "y": {"field": "r", "type": "quantitative", "axis": null}, "text": {"field": "t"}}},
      {"data": {"name": "lab"}, "mark": {"type": "text", "fontSize": 17, "fontWeight": "bold", "color": "#111", "baseline": "middle"},
       "encoding": {"x": {"field": "c", "type": "quantitative", "axis": null}, "y": {"field": "r", "type": "quantitative", "axis": null}, "text": {"field": "t"}}},
      {"data": {"name": "ttl"}, "mark": {"type": "text", "fontSize": 37, "color": "#111", "align": "left", "baseline": "alphabetic"},
       "encoding": {"x": {"field": "c", "type": "quantitative", "axis": null}, "y": {"field": "r", "type": "quantitative", "axis": null}, "text": {"field": "t"}}}
    ]
  },
  {
    "title": {"text": "Fitted smooth functions", "font": "Liberation Serif", "fontSize": 22, "fontWeight": "bold", "color": "#111", "dx": 44, "offset": 8},
    "columns": 2,
    "spacing": {"row": 20, "column": 18},
    "bounds": "flush",
    "concat": [
      {"width": 142, "height": 80,
       "title": {"text": "[P]", "font": "Liberation Serif", "fontSize": 27, "fontWeight": "normal", "color": "#111", "dx": -9, "offset": 4},
       "layer": [
        {"data": {"name": "sm"}, "transform": [{"filter": "datum.p == 's1P'"}, {"fold": ["f", "u", "l"], "as": ["k", "v"]}],
         "mark": {"type": "line", "interpolate": "monotone", "color": "#6a6a6a", "strokeWidth": 1.3},
         "encoding": {
           "x": {"field": "x", "type": "quantitative", "title": null, "scale": {"domain": [-10.5, 115.5], "nice": false, "zero": false}, "axis": {"values": [0, 20, 40, 60, 80, 100], "tickCount": 20, "labelOverlap": false}},
           "y": {"field": "v", "type": "quantitative", "title": null, "scale": {"domain": [-9, 20], "nice": false, "zero": false}, "axis": {"values": [-5, 0, 5, 10, 15], "tickCount": 20, "labelExpr": "datum.value % 10 == 0 ? '' : datum.label"}},
           "strokeDash": {"field": "k", "type": "nominal", "scale": {"domain": ["f", "u", "l"], "range": [[1, 0], [3, 2], [3, 2]]}, "legend": null}}},
        {"data": {"name": "rugP"}, "mark": {"type": "tick", "orient": "vertical", "size": 4, "thickness": 0.8, "color": "#777"},
         "encoding": {"x": {"field": "x", "type": "quantitative"}, "y": {"datum": -8.3}}}
       ]},
      {"width": 142, "height": 80,
       "title": {"text": "airT", "font": "Liberation Serif", "fontSize": 27, "fontWeight": "normal", "color": "#111", "dx": -11, "offset": 4},
       "layer": [
        {"data": {"name": "sm"}, "transform": [{"filter": "datum.p == 's1T'"}, {"fold": ["f", "u", "l"], "as": ["k", "v"]}],
         "mark": {"type": "line", "interpolate": "monotone", "color": "#6a6a6a", "strokeWidth": 1.3},
         "encoding": {
           "x": {"field": "x", "type": "quantitative", "title": null, "scale": {"domain": [-18.5, 18.4], "nice": false, "zero": false}, "axis": {"values": [-15, -10, -5, 0, 5, 10, 15], "tickCount": 20, "labelOverlap": false, "labelExpr": "datum.value == -10 ? '' : datum.label"}},
           "y": {"field": "v", "type": "quantitative", "title": null, "scale": {"domain": [-9, 20], "nice": false, "zero": false}, "axis": {"values": [-5, 0, 5, 10, 15], "tickCount": 20, "labelExpr": "datum.value % 10 == 0 ? '' : datum.label"}},
           "strokeDash": {"field": "k", "type": "nominal", "scale": {"domain": ["f", "u", "l"], "range": [[1, 0], [3, 2], [3, 2]]}, "legend": null}}},
        {"data": {"name": "rugT"}, "mark": {"type": "tick", "orient": "vertical", "size": 4, "thickness": 0.8, "color": "#777"},
         "encoding": {"x": {"field": "x", "type": "quantitative"}, "y": {"datum": -8.3}}}
       ]},
      {"width": 142, "height": 80,
       "layer": [
        {"data": {"name": "sm"}, "transform": [{"filter": "datum.p == 's2P'"}, {"fold": ["f", "u", "l"], "as": ["k", "v"]}],
         "mark": {"type": "line", "interpolate": "monotone", "color": "#6a6a6a", "strokeWidth": 1.3},
         "encoding": {
           "x": {"field": "x", "type": "quantitative", "title": null, "scale": {"domain": [-10.5, 115.5], "nice": false, "zero": false}, "axis": {"values": [0, 20, 40, 60, 80, 100], "tickCount": 20, "labelOverlap": false}},
           "y": {"field": "v", "type": "quantitative", "title": null, "scale": {"domain": [-1180, 3570], "nice": false, "zero": false}, "axis": {"values": [-1000, 0, 1000, 2000, 3000], "tickCount": 20, "format": "d", "labelExpr": "datum.value % 2000 == 0 ? '' : datum.label"}},
           "strokeDash": {"field": "k", "type": "nominal", "scale": {"domain": ["f", "u", "l"], "range": [[1, 0], [3, 2], [3, 2]]}, "legend": null}}},
        {"data": {"name": "rugP"}, "mark": {"type": "tick", "orient": "vertical", "size": 4, "thickness": 0.8, "color": "#777"},
         "encoding": {"x": {"field": "x", "type": "quantitative"}, "y": {"datum": -1060}}}
       ]},
      {"width": 142, "height": 80,
       "layer": [
        {"data": {"name": "sm"}, "transform": [{"filter": "datum.p == 's2T'"}, {"fold": ["f", "u", "l"], "as": ["k", "v"]}],
         "mark": {"type": "line", "interpolate": "monotone", "color": "#6a6a6a", "strokeWidth": 1.3},
         "encoding": {
           "x": {"field": "x", "type": "quantitative", "title": null, "scale": {"domain": [-18.5, 18.4], "nice": false, "zero": false}, "axis": {"values": [-15, -10, -5, 0, 5, 10, 15], "tickCount": 20, "labelOverlap": false, "labelExpr": "datum.value == -10 ? '' : datum.label"}},
           "y": {"field": "v", "type": "quantitative", "title": null, "scale": {"domain": [-1180, 3570], "nice": false, "zero": false}, "axis": {"values": [-1000, 0, 1000, 2000, 3000], "tickCount": 20, "format": "d", "labelExpr": "datum.value % 2000 == 0 ? '' : datum.label"}},
           "strokeDash": {"field": "k", "type": "nominal", "scale": {"domain": ["f", "u", "l"], "range": [[1, 0], [3, 2], [3, 2]]}, "legend": null}}},
        {"data": {"name": "rugT"}, "mark": {"type": "tick", "orient": "vertical", "size": 4, "thickness": 0.8, "color": "#777"},
         "encoding": {"x": {"field": "x", "type": "quantitative"}, "y": {"datum": -1060}}}
       ]},
      {"width": 142, "height": 80,
       "layer": [
        {"data": {"name": "sm"}, "transform": [{"filter": "datum.p == 's3P'"}, {"fold": ["f", "u", "l"], "as": ["k", "v"]}],
         "mark": {"type": "line", "color": "#6a6a6a", "strokeWidth": 1.3},
         "encoding": {
           "x": {"field": "x", "type": "quantitative", "title": null, "scale": {"domain": [-10.5, 115.5], "nice": false, "zero": false}, "axis": {"values": [0, 20, 40, 60, 80, 100], "tickCount": 20, "labelOverlap": false}},
           "y": {"field": "v", "type": "quantitative", "title": null, "scale": {"domain": [-0.323, 0.145], "nice": false, "zero": false}, "axis": {"values": [-0.3, -0.2, -0.1, 0, 0.1], "tickCount": 20, "format": ".1f", "labelExpr": "abs(datum.value) < 0.01 || abs(datum.value + 0.2) < 0.01 ? '' : datum.label"}},
           "strokeDash": {"field": "k", "type": "nominal", "scale": {"domain": ["f", "u", "l"], "range": [[1, 0], [3, 2], [3, 2]]}, "legend": null}}},
        {"data": {"name": "rugP"}, "mark": {"type": "tick", "orient": "vertical", "size": 4, "thickness": 0.8, "color": "#777"},
         "encoding": {"x": {"field": "x", "type": "quantitative"}, "y": {"datum": -0.311}}}
       ]},
      {"width": 142, "height": 80,
       "layer": [
        {"data": {"name": "sm"}, "transform": [{"filter": "datum.p == 's3T'"}, {"fold": ["f", "u", "l"], "as": ["k", "v"]}],
         "mark": {"type": "line", "color": "#6a6a6a", "strokeWidth": 1.3},
         "encoding": {
           "x": {"field": "x", "type": "quantitative", "title": null, "scale": {"domain": [-18.5, 18.4], "nice": false, "zero": false}, "axis": {"values": [-15, -10, -5, 0, 5, 10, 15], "tickCount": 20, "labelOverlap": false, "labelExpr": "datum.value == -10 ? '' : datum.label"}},
           "y": {"field": "v", "type": "quantitative", "title": null, "scale": {"domain": [-0.323, 0.145], "nice": false, "zero": false}, "axis": {"values": [-0.3, -0.2, -0.1, 0, 0.1], "tickCount": 20, "format": ".1f", "labelExpr": "abs(datum.value) < 0.01 || abs(datum.value + 0.2) < 0.01 ? '' : datum.label"}},
           "strokeDash": {"field": "k", "type": "nominal", "scale": {"domain": ["f", "u", "l"], "range": [[1, 0], [3, 2], [3, 2]]}, "legend": null}}},
        {"data": {"name": "rugT"}, "mark": {"type": "tick", "orient": "vertical", "size": 4, "thickness": 0.8, "color": "#777"},
         "encoding": {"x": {"field": "x", "type": "quantitative"}, "y": {"datum": -0.311}}}
       ]},
      {"width": 142, "height": 80,
       "layer": [
        {"data": {"name": "sm"}, "transform": [{"filter": "datum.p == 's4P'"}, {"fold": ["f", "u", "l"], "as": ["k", "v"]}],
         "mark": {"type": "line", "color": "#6a6a6a", "strokeWidth": 1.3},
         "encoding": {
           "x": {"field": "x", "type": "quantitative", "title": null, "scale": {"domain": [-10.5, 115.5], "nice": false, "zero": false}, "axis": {"values": [0, 20, 40, 60, 80, 100], "tickCount": 20, "labelOverlap": false}},
           "y": {"field": "v", "type": "quantitative", "title": null, "scale": {"domain": [-0.576, 0.384], "nice": false, "zero": false}, "axis": {"values": [-0.4, -0.2, 0, 0.2], "tickCount": 20, "format": ".1f", "labelExpr": "abs(abs(datum.value) - 0.2) < 0.01 ? '' : datum.label"}},
           "strokeDash": {"field": "k", "type": "nominal", "scale": {"domain": ["f", "u", "l"], "range": [[1, 0], [3, 2], [3, 2]]}, "legend": null}}},
        {"data": {"name": "rugP"}, "mark": {"type": "tick", "orient": "vertical", "size": 4, "thickness": 0.8, "color": "#777"},
         "encoding": {"x": {"field": "x", "type": "quantitative"}, "y": {"datum": -0.552}}}
       ]},
      {"width": 142, "height": 80,
       "layer": [
        {"data": {"name": "sm"}, "transform": [{"filter": "datum.p == 's4T'"}, {"fold": ["f", "u", "l"], "as": ["k", "v"]}],
         "mark": {"type": "line", "interpolate": "monotone", "color": "#6a6a6a", "strokeWidth": 1.3},
         "encoding": {
           "x": {"field": "x", "type": "quantitative", "title": null, "scale": {"domain": [-18.5, 18.4], "nice": false, "zero": false}, "axis": {"values": [-15, -10, -5, 0, 5, 10, 15], "tickCount": 20, "labelOverlap": false, "labelExpr": "datum.value == -10 ? '' : datum.label"}},
           "y": {"field": "v", "type": "quantitative", "title": null, "scale": {"domain": [-0.576, 0.384], "nice": false, "zero": false}, "axis": {"values": [-0.4, -0.2, 0, 0.2], "tickCount": 20, "format": ".1f", "labelExpr": "abs(abs(datum.value) - 0.2) < 0.01 ? '' : datum.label"}},
           "strokeDash": {"field": "k", "type": "nominal", "scale": {"domain": ["f", "u", "l"], "range": [[1, 0], [3, 2], [3, 2]]}, "legend": null}}},
        {"data": {"name": "rugT"}, "mark": {"type": "tick", "orient": "vertical", "size": 4, "thickness": 0.8, "color": "#777"},
         "encoding": {"x": {"field": "x", "type": "quantitative"}, "y": {"datum": -0.552}}}
       ]}
    ]
  },
  {"width": 206, "height": 80, "view": {"stroke": null}, "data": {"values": []}, "mark": "point"},
  {
    "title": {"text": "Contribution to the temporal dynamics", "font": "Liberation Serif", "fontSize": 22, "fontWeight": "bold", "color": "#111", "dx": -23, "offset": 8},
    "columns": 2,
    "spacing": {"row": 20, "column": 19},
    "bounds": "flush",
    "concat": [
      {"width": 142, "height": 80,
       "title": {"text": "[P]", "font": "Liberation Serif", "fontSize": 27, "fontWeight": "normal", "color": "#111", "dx": -8, "offset": 4},
       "layer": [
        {"data": {"values": [{}]}, "mark": {"type": "rule", "color": "#666", "strokeWidth": 1.3}, "encoding": {"y": {"datum": 0}}},
        {"data": {"name": "ct"}, "transform": [{"filter": "datum.p == 'c1P'"}, {"fold": ["f", "u", "l"], "as": ["k", "v"]}],
         "mark": {"type": "line", "strokeWidth": 1},
         "encoding": {
           "x": {"field": "y", "type": "quantitative", "title": null, "scale": {"domain": [1898.8, 2011.2], "nice": false, "zero": false}, "axis": {"values": [1900, 1920, 1940, 1960, 1980, 2000], "tickCount": 20, "format": "d", "labelOverlap": false, "labelExpr": "datum.value % 40 == 0 ? '' : datum.label"}},
           "y": {"field": "v", "type": "quantitative", "title": null, "scale": {"domain": [-1.08, 1.08], "nice": false, "zero": false}, "axis": {"values": [-1, -0.5, 0, 0.5, 1], "tickCount": 20, "format": ".1f", "labelExpr": "abs(abs(datum.value) - 0.5) < 0.01 ? '' : datum.label"}},
           "strokeDash": {"field": "k", "type": "nominal", "scale": {"domain": ["f", "u", "l"], "range": [[1, 0], [2, 2], [2, 2]]}, "legend": null},
           "color": {"field": "k", "type": "nominal", "scale": {"domain": ["f", "u", "l"], "range": ["#2a2a2a", "#808080", "#808080"]}, "legend": null}}}
       ]},
      {"width": 142, "height": 80,
       "title": {"text": "airT", "font": "Liberation Serif", "fontSize": 27, "fontWeight": "normal", "color": "#111", "dx": -25, "offset": 4},
       "layer": [
        {"data": {"values": [{}]}, "mark": {"type": "rule", "color": "#666", "strokeWidth": 1.3}, "encoding": {"y": {"datum": 0}}},
        {"data": {"name": "ct"}, "transform": [{"filter": "datum.p == 'c1T'"}, {"fold": ["f", "u", "l"], "as": ["k", "v"]}],
         "mark": {"type": "line", "strokeWidth": 1},
         "encoding": {
           "x": {"field": "y", "type": "quantitative", "title": null, "scale": {"domain": [1898.8, 2011.2], "nice": false, "zero": false}, "axis": {"values": [1900, 1920, 1940, 1960, 1980, 2000], "tickCount": 20, "format": "d", "labelOverlap": false, "labelExpr": "datum.value % 40 == 0 ? '' : datum.label"}},
           "y": {"field": "v", "type": "quantitative", "title": null, "scale": {"domain": [-1.08, 1.08], "nice": false, "zero": false}, "axis": {"values": [-1, -0.5, 0, 0.5, 1], "tickCount": 20, "format": ".1f", "labelExpr": "abs(abs(datum.value) - 0.5) < 0.01 ? '' : datum.label"}},
           "strokeDash": {"field": "k", "type": "nominal", "scale": {"domain": ["f", "u", "l"], "range": [[1, 0], [2, 2], [2, 2]]}, "legend": null},
           "color": {"field": "k", "type": "nominal", "scale": {"domain": ["f", "u", "l"], "range": ["#2a2a2a", "#808080", "#808080"]}, "legend": null}}}
       ]},
      {"width": 142, "height": 80,
       "layer": [
        {"data": {"values": [{}]}, "mark": {"type": "rule", "color": "#666", "strokeWidth": 1.3}, "encoding": {"y": {"datum": 0}}},
        {"data": {"name": "ct"}, "transform": [{"filter": "datum.p == 'c2P'"}, {"fold": ["f", "u", "l"], "as": ["k", "v"]}],
         "mark": {"type": "line", "strokeWidth": 1},
         "encoding": {
           "x": {"field": "y", "type": "quantitative", "title": null, "scale": {"domain": [1898.8, 2011.2], "nice": false, "zero": false}, "axis": {"values": [1900, 1920, 1940, 1960, 1980, 2000], "tickCount": 20, "format": "d", "labelOverlap": false, "labelExpr": "datum.value % 40 == 0 ? '' : datum.label"}},
           "y": {"field": "v", "type": "quantitative", "title": null, "scale": {"domain": [-1.08, 1.08], "nice": false, "zero": false}, "axis": {"values": [-1, -0.5, 0, 0.5, 1], "tickCount": 20, "format": ".1f", "labelExpr": "abs(abs(datum.value) - 0.5) < 0.01 ? '' : datum.label"}},
           "strokeDash": {"field": "k", "type": "nominal", "scale": {"domain": ["f", "u", "l"], "range": [[1, 0], [2, 2], [2, 2]]}, "legend": null},
           "color": {"field": "k", "type": "nominal", "scale": {"domain": ["f", "u", "l"], "range": ["#2a2a2a", "#808080", "#808080"]}, "legend": null}}}
       ]},
      {"width": 142, "height": 80,
       "layer": [
        {"data": {"values": [{}]}, "mark": {"type": "rule", "color": "#666", "strokeWidth": 1.3}, "encoding": {"y": {"datum": 0}}},
        {"data": {"name": "ct"}, "transform": [{"filter": "datum.p == 'c2T'"}, {"fold": ["f", "u", "l"], "as": ["k", "v"]}],
         "mark": {"type": "line", "strokeWidth": 1},
         "encoding": {
           "x": {"field": "y", "type": "quantitative", "title": null, "scale": {"domain": [1898.8, 2011.2], "nice": false, "zero": false}, "axis": {"values": [1900, 1920, 1940, 1960, 1980, 2000], "tickCount": 20, "format": "d", "labelOverlap": false, "labelExpr": "datum.value % 40 == 0 ? '' : datum.label"}},
           "y": {"field": "v", "type": "quantitative", "title": null, "scale": {"domain": [-1.08, 1.08], "nice": false, "zero": false}, "axis": {"values": [-1, -0.5, 0, 0.5, 1], "tickCount": 20, "format": ".1f", "labelExpr": "abs(abs(datum.value) - 0.5) < 0.01 ? '' : datum.label"}},
           "strokeDash": {"field": "k", "type": "nominal", "scale": {"domain": ["f", "u", "l"], "range": [[1, 0], [2, 2], [2, 2]]}, "legend": null},
           "color": {"field": "k", "type": "nominal", "scale": {"domain": ["f", "u", "l"], "range": ["#2a2a2a", "#808080", "#808080"]}, "legend": null}}}
       ]},
      {"width": 142, "height": 80,
       "layer": [
        {"data": {"values": [{}]}, "mark": {"type": "rule", "color": "#666", "strokeWidth": 1.3}, "encoding": {"y": {"datum": 0}}},
        {"data": {"name": "ct"}, "transform": [{"filter": "datum.p == 'c3P'"}, {"fold": ["f", "u", "l"], "as": ["k", "v"]}],
         "mark": {"type": "line", "strokeWidth": 1},
         "encoding": {
           "x": {"field": "y", "type": "quantitative", "title": null, "scale": {"domain": [1898.8, 2011.2], "nice": false, "zero": false}, "axis": {"values": [1900, 1920, 1940, 1960, 1980, 2000], "tickCount": 20, "format": "d", "labelOverlap": false, "labelExpr": "datum.value % 40 == 0 ? '' : datum.label"}},
           "y": {"field": "v", "type": "quantitative", "title": null, "scale": {"domain": [-1.08, 1.08], "nice": false, "zero": false}, "axis": {"values": [-1, -0.5, 0, 0.5, 1], "tickCount": 20, "format": ".1f", "labelExpr": "abs(abs(datum.value) - 0.5) < 0.01 ? '' : datum.label"}},
           "strokeDash": {"field": "k", "type": "nominal", "scale": {"domain": ["f", "u", "l"], "range": [[1, 0], [2, 2], [2, 2]]}, "legend": null},
           "color": {"field": "k", "type": "nominal", "scale": {"domain": ["f", "u", "l"], "range": ["#2a2a2a", "#808080", "#808080"]}, "legend": null}}}
       ]},
      {"width": 142, "height": 80,
       "layer": [
        {"data": {"values": [{}]}, "mark": {"type": "rule", "color": "#666", "strokeWidth": 1.3}, "encoding": {"y": {"datum": 0}}},
        {"data": {"name": "ct"}, "transform": [{"filter": "datum.p == 'c3T'"}, {"fold": ["f", "u", "l"], "as": ["k", "v"]}],
         "mark": {"type": "line", "strokeWidth": 1},
         "encoding": {
           "x": {"field": "y", "type": "quantitative", "title": null, "scale": {"domain": [1898.8, 2011.2], "nice": false, "zero": false}, "axis": {"values": [1900, 1920, 1940, 1960, 1980, 2000], "tickCount": 20, "format": "d", "labelOverlap": false, "labelExpr": "datum.value % 40 == 0 ? '' : datum.label"}},
           "y": {"field": "v", "type": "quantitative", "title": null, "scale": {"domain": [-1.08, 1.08], "nice": false, "zero": false}, "axis": {"values": [-1, -0.5, 0, 0.5, 1], "tickCount": 20, "format": ".1f", "labelExpr": "abs(abs(datum.value) - 0.5) < 0.01 ? '' : datum.label"}},
           "strokeDash": {"field": "k", "type": "nominal", "scale": {"domain": ["f", "u", "l"], "range": [[1, 0], [2, 2], [2, 2]]}, "legend": null},
           "color": {"field": "k", "type": "nominal", "scale": {"domain": ["f", "u", "l"], "range": ["#2a2a2a", "#808080", "#808080"]}, "legend": null}}}
       ]},
      {"width": 142, "height": 80,
       "layer": [
        {"data": {"values": [{}]}, "mark": {"type": "rule", "color": "#666", "strokeWidth": 1.3}, "encoding": {"y": {"datum": 0}}},
        {"data": {"name": "ct"}, "transform": [{"filter": "datum.p == 'c4P'"}, {"fold": ["f", "u", "l"], "as": ["k", "v"]}],
         "mark": {"type": "line", "strokeWidth": 1},
         "encoding": {
           "x": {"field": "y", "type": "quantitative", "title": null, "scale": {"domain": [1898.8, 2011.2], "nice": false, "zero": false}, "axis": {"values": [1900, 1920, 1940, 1960, 1980, 2000], "tickCount": 20, "format": "d", "labelOverlap": false, "labelExpr": "datum.value % 40 == 0 ? '' : datum.label"}},
           "y": {"field": "v", "type": "quantitative", "title": null, "scale": {"domain": [-1.08, 1.08], "nice": false, "zero": false}, "axis": {"values": [-1, -0.5, 0, 0.5, 1], "tickCount": 20, "format": ".1f", "labelExpr": "abs(abs(datum.value) - 0.5) < 0.01 ? '' : datum.label"}},
           "strokeDash": {"field": "k", "type": "nominal", "scale": {"domain": ["f", "u", "l"], "range": [[1, 0], [2, 2], [2, 2]]}, "legend": null},
           "color": {"field": "k", "type": "nominal", "scale": {"domain": ["f", "u", "l"], "range": ["#2a2a2a", "#808080", "#808080"]}, "legend": null}}}
       ]},
      {"width": 142, "height": 80,
       "layer": [
        {"data": {"values": [{}]}, "mark": {"type": "rule", "color": "#666", "strokeWidth": 1.3}, "encoding": {"y": {"datum": 0}}},
        {"data": {"name": "ct"}, "transform": [{"filter": "datum.p == 'c4T'"}, {"fold": ["f", "u", "l"], "as": ["k", "v"]}],
         "mark": {"type": "line", "strokeWidth": 1},
         "encoding": {
           "x": {"field": "y", "type": "quantitative", "title": null, "scale": {"domain": [1898.8, 2011.2], "nice": false, "zero": false}, "axis": {"values": [1900, 1920, 1940, 1960, 1980, 2000], "tickCount": 20, "format": "d", "labelOverlap": false, "labelExpr": "datum.value % 40 == 0 ? '' : datum.label"}},
           "y": {"field": "v", "type": "quantitative", "title": null, "scale": {"domain": [-1.08, 1.08], "nice": false, "zero": false}, "axis": {"values": [-1, -0.5, 0, 0.5, 1], "tickCount": 20, "format": ".1f", "labelExpr": "abs(abs(datum.value) - 0.5) < 0.01 ? '' : datum.label"}},
           "strokeDash": {"field": "k", "type": "nominal", "scale": {"domain": ["f", "u", "l"], "range": [[1, 0], [2, 2], [2, 2]]}, "legend": null},
           "color": {"field": "k", "type": "nominal", "scale": {"domain": ["f", "u", "l"], "range": ["#2a2a2a", "#808080", "#808080"]}, "legend": null}}}
       ]}
    ]
  }
]
}
